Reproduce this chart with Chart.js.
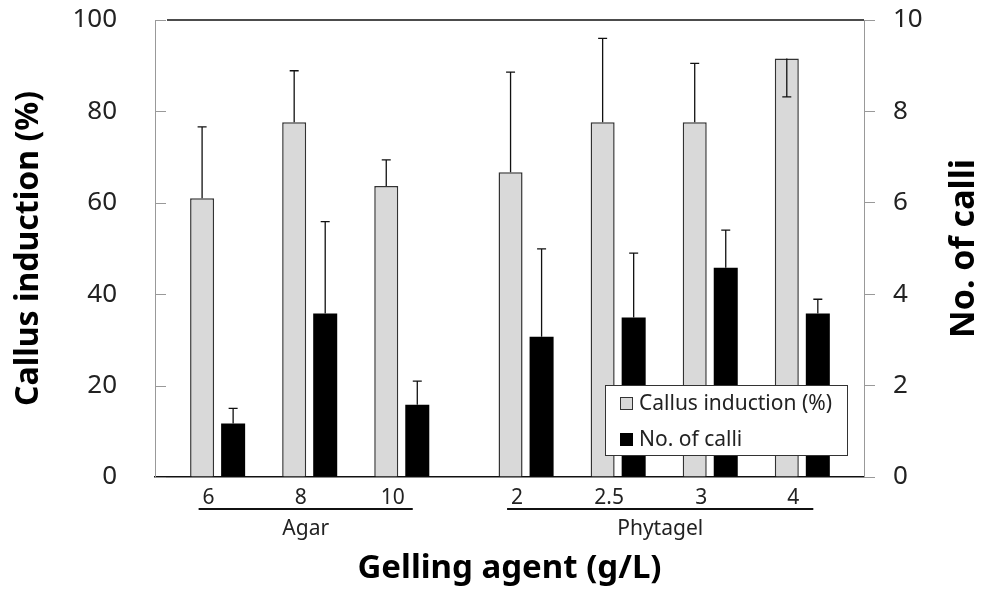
<!DOCTYPE html>
<html>
<head>
<meta charset="utf-8">
<script src="https://cdn.jsdelivr.net/npm/chart.js@4.4.1/dist/chart.umd.min.js"></script>
<style>
  html, body { margin: 0; padding: 0; background: #fff; }
</style>
</head>
<body>
<canvas id="gellingChart" width="982" height="592"></canvas>
<script>
// data
const categories = ['6', '8', '10', '2', '2.5', '3', '4'];
const agents = ['Agar', 'Agar', 'Agar', 'Phytagel', 'Phytagel', 'Phytagel', 'Phytagel'];
const callusInduction = [61.0, 77.6, 63.7, 66.7, 77.6, 77.6, 91.6];
// a negative error is drawn downward, as in the original
const callusInductionErr = [15.6, 11.3, 5.7, 21.9, 18.4, 12.9, -8.4];
const calliCount = [1.17, 3.58, 1.58, 3.07, 3.49, 4.58, 3.58];
const calliCountErr = [0.33, 2.01, 0.52, 1.92, 1.41, 0.82, 0.31];

const FONT = "'Noto Sans', 'DejaVu Sans', sans-serif";
const GROUP_GAP = 0.35;

// category slots on a linear axis, with a wider gap between gelling agents
let grp = 0;
const xPos = categories.map((c, i) => {
  if (i > 0 && agents[i] !== agents[i - 1]) grp++;
  return i + grp * GROUP_GAP;
});

// keep the tick label padding from pushing the plot down
const fixWidth = w => scale => {
  scale.width = w;
  scale.paddingTop = 0;
  scale.paddingBottom = 0;
};

const errorBars = {
  id: 'errorBars',
  afterDatasetsDraw(chart) {
    const ctx = chart.ctx;
    ctx.save();
    ctx.strokeStyle = '#111';
    ctx.lineWidth = 1.3;
    chart.data.datasets.forEach((ds, di) => {
      const meta = chart.getDatasetMeta(di);
      const yScale = chart.scales[ds.yAxisID];
      meta.data.forEach((bar, i) => {
        const v = ds.data[i].y;
        const yEnd = yScale.getPixelForValue(v + ds.errors[i]);
        ctx.beginPath();
        ctx.moveTo(bar.x, bar.y);
        ctx.lineTo(bar.x, yEnd);
        ctx.moveTo(bar.x - 4.5, yEnd);
        ctx.lineTo(bar.x + 4.5, yEnd);
        ctx.stroke();
      });
    });
    ctx.restore();
  }
};

const decorations = {
  id: 'decorations',
  afterDraw(chart) {
    const ctx = chart.ctx;
    const area = chart.chartArea;
    const x = chart.scales.x;
    const y = chart.scales.y;
    ctx.save();

    // top frame line
    ctx.strokeStyle = '#111';
    ctx.lineWidth = 1.5;
    ctx.beginPath();
    ctx.moveTo(area.left + 12, area.top);
    ctx.lineTo(area.right, area.top);
    ctx.stroke();

    // inward ticks on the left axis
    ctx.strokeStyle = '#999';
    ctx.lineWidth = 1;
    y.ticks.forEach(t => {
      const py = Math.round(y.getPixelForValue(t.value)) + 0.5;
      ctx.beginPath();
      ctx.moveTo(area.left, py);
      ctx.lineTo(area.left + 11, py);
      ctx.stroke();
    });

    // gelling agent groups under the tick labels
    const groupNames = agents.filter((a, i) => agents.indexOf(a) === i);
    ctx.fillStyle = '#222';
    ctx.font = '21px ' + FONT;
    ctx.textAlign = 'center';
    ctx.textBaseline = 'middle';
    groupNames.forEach(name => {
      const first = agents.indexOf(name);
      const last = agents.lastIndexOf(name);
      const x0 = x.getPixelForValue(xPos[first]) - 19;
      const x1 = x.getPixelForValue(xPos[last]) + 11;
      ctx.strokeStyle = '#111';
      ctx.lineWidth = 2;
      ctx.beginPath();
      ctx.moveTo(x0, area.bottom + 32);
      ctx.lineTo(x1, area.bottom + 32);
      ctx.stroke();
      ctx.fillText(name, (x0 + x1) / 2, area.bottom + 52);
    });

    // right axis title, reading upward like the left one
    ctx.save();
    ctx.translate(chart.width - 18, (area.top + area.bottom) / 2);
    ctx.rotate(-Math.PI / 2);
    ctx.font = 'bold 34px ' + FONT;
    ctx.fillStyle = '#000';
    ctx.fillText('No. of calli', 0, 0);
    ctx.restore();

    // legend box inside the plot
    const bx = area.left + 450, by = area.bottom - 92, bw = 242, bh = 70;
    ctx.fillStyle = '#fff';
    ctx.fillRect(bx, by, bw, bh);
    ctx.strokeStyle = '#333';
    ctx.lineWidth = 1;
    ctx.strokeRect(bx + 0.5, by + 0.5, bw, bh);
    ctx.font = '21px ' + FONT;
    ctx.textAlign = 'left';
    chart.data.datasets.forEach((ds, di) => {
      const cy = by + 18 + di * 36;
      ctx.fillStyle = ds.backgroundColor;
      ctx.fillRect(bx + 15, cy - 6, 13, 13);
      ctx.strokeStyle = ds.borderColor;
      ctx.strokeRect(bx + 15.5, cy - 5.5, 12, 12);
      ctx.fillStyle = '#222';
      ctx.fillText(ds.label, bx + 34, cy + 1);
    });

    ctx.restore();
  }
};

new Chart(document.getElementById('gellingChart'), {
  type: 'bar',
  data: {
    datasets: [
      {
        label: 'Callus induction (%)',
        data: callusInduction.map((v, i) => ({ x: xPos[i], y: v })),
        errors: callusInductionErr,
        yAxisID: 'y',
        backgroundColor: '#d9d9d9',
        borderColor: '#333',
        borderWidth: 1.5,
        categoryPercentage: 0.674,
        barPercentage: 0.774
      },
      {
        label: 'No. of calli',
        data: calliCount.map((v, i) => ({ x: xPos[i], y: v })),
        errors: calliCountErr,
        yAxisID: 'y1',
        backgroundColor: '#000',
        borderColor: '#000',
        borderWidth: 0,
        categoryPercentage: 0.674,
        barPercentage: 0.774
      }
    ]
  },
  options: {
    responsive: false,
    animation: false,
    devicePixelRatio: 1,
    layout: { padding: { top: 20, right: 0, bottom: 0, left: 0 } },
    plugins: {
      legend: { display: false },
      tooltip: { enabled: false }
    },
    scales: {
      x: {
        type: 'linear',
        offset: false,
        bounds: 'data',
        min: -0.68,
        max: xPos[xPos.length - 1] + 0.67,
        afterBuildTicks: scale => { scale.ticks = xPos.map(v => ({ value: v })); },
        afterFit: scale => { scale.height = 115; },
        grid: { display: true, drawOnChartArea: false, drawTicks: false, offset: false },
        border: { display: true, color: '#111', width: 1.5 },
        ticks: {
          autoSkip: false,
          maxRotation: 0,
          padding: 8,
          labelOffset: -9,
          color: '#222',
          font: { family: FONT, size: 21 },
          callback: (v, i) => categories[i]
        },
        title: {
          display: true,
          text: 'Gelling agent (g/L)',
          color: '#000',
          font: { family: FONT, size: 33, weight: 'bold' },
          padding: { top: 0, bottom: 4 }
        }
      },
      y: {
        position: 'left',
        min: 0,
        max: 100,
        afterFit: fixWidth(155),
        grid: { drawOnChartArea: false, drawTicks: false },
        border: { display: true, color: '#999', width: 1 },
        ticks: {
          stepSize: 20,
          padding: 38,
          color: '#222',
          font: { family: FONT, size: 26 }
        },
        title: {
          display: true,
          text: 'Callus induction (%)',
          color: '#000',
          font: { family: FONT, size: 32, weight: 'bold' },
          padding: { top: 10, bottom: 0 }
        }
      },
      y1: {
        position: 'right',
        min: 0,
        max: 10,
        afterFit: fixWidth(118),
        grid: { drawOnChartArea: false, drawTicks: true, tickLength: 11, color: '#999' },
        border: { display: true, color: '#999', width: 1 },
        ticks: {
          stepSize: 2,
          padding: 18,
          color: '#222',
          font: { family: FONT, size: 26 }
        }
      }
    }
  },
  plugins: [errorBars, decorations]
});
</script>
</body>
</html>
